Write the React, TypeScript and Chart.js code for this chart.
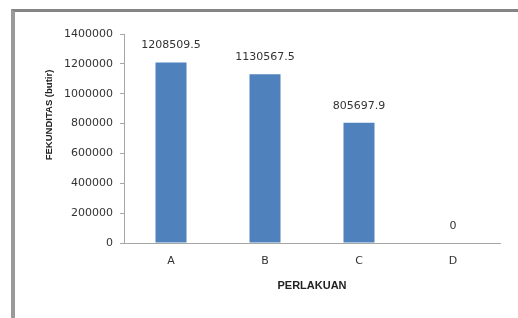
import React, { useEffect, useRef } from "react";
import { Chart, registerables } from "chart.js";

Chart.register(...registerables);

const categories = ["A", "B", "C", "D"];
const fekunditas = [1208509.5, 1130567.5, 805697.9, 0];
const yMax = 1400000;
const yStep = 200000;
const xTitle = "PERLAKUAN";
const yTitle = "FEKUNDITAS (butir)";

const overlayPlugin = {
  id: "overlay",
  afterDraw(chart: any) {
    const ctx = chart.ctx;
    ctx.save();
    const meta = chart.getDatasetMeta(0);
    ctx.font = "11px 'DejaVu Sans'";
    ctx.fillStyle = "#333333";
    ctx.textAlign = "center";
    ctx.textBaseline = "middle";
    meta.data.forEach((bar: any, i: number) => {
      const v = chart.data.datasets[0].data[i];
      ctx.fillText(String(v), bar.x, bar.y - 17);
    });
    ctx.translate(49, 115);
    ctx.rotate(-Math.PI / 2);
    ctx.font = "bold 9.5px 'Liberation Sans'";
    ctx.fillStyle = "#222222";
    ctx.fillText(yTitle, 0, 0);
    ctx.restore();
  },
};

export default function App() {
  const ref = useRef<HTMLCanvasElement | null>(null);
  useEffect(() => {
    if (!ref.current) return;
    const chart = new Chart(ref.current, {
      type: "bar",
      data: {
        labels: categories,
        datasets: [
          {
            data: fekunditas,
            backgroundColor: "#4F81BD",
            borderWidth: 0,
            barPercentage: 0.33,
            categoryPercentage: 1,
          },
        ],
      },
      options: {
        responsive: false,
        animation: false,
        events: [],
        layout: { padding: { top: 34, right: 18, bottom: 0, left: 0 } },
        plugins: {
          legend: { display: false },
          tooltip: { enabled: false },
          title: { display: false },
        },
        scales: {
          x: {
            grid: { display: true, drawOnChartArea: false, drawTicks: false },
            border: { display: true, color: "#a6a6a6", width: 1 },
            ticks: {
              padding: 12,
              color: "#333333",
              font: { family: "'DejaVu Sans'", size: 11 },
            },
            title: {
              display: true,
              text: xTitle,
              color: "#222222",
              font: { family: "'Liberation Sans'", size: 11, weight: "bold" },
              padding: { top: 0, bottom: 25 },
            },
            afterFit(scale: any) {
              scale.height = 75;
            },
          },
          y: {
            min: 0,
            max: yMax,
            ticks: {
              stepSize: yStep,
              padding: 7,
              color: "#333333",
              font: { family: "'DejaVu Sans'", size: 11 },
              callback: (value: any) => String(value),
            },
            grid: {
              display: true,
              drawOnChartArea: false,
              drawTicks: true,
              tickLength: 4,
              color: "#a6a6a6",
            },
            border: { display: true, color: "#a6a6a6", width: 1 },
            afterFit(scale: any) {
              scale.width = 124;
            },
          },
        },
      },
      plugins: [overlayPlugin],
    });
    return () => chart.destroy();
  }, []);

  return (
    <div
      style={{
        position: "fixed",
        left: 0,
        top: 0,
        width: 518,
        height: 318,
        background: "#ffffff",
      }}
    >
      <div
        style={{
          position: "absolute",
          left: 11,
          top: 9,
          right: 0,
          bottom: 0,
          borderLeft: "4px solid #9a9a9a",
          borderTop: "3px solid #858585",
        }}
      />
      <canvas
        ref={ref}
        width={518}
        height={318}
        style={{ position: "absolute", left: 0, top: 0 }}
      />
    </div>
  );
}
